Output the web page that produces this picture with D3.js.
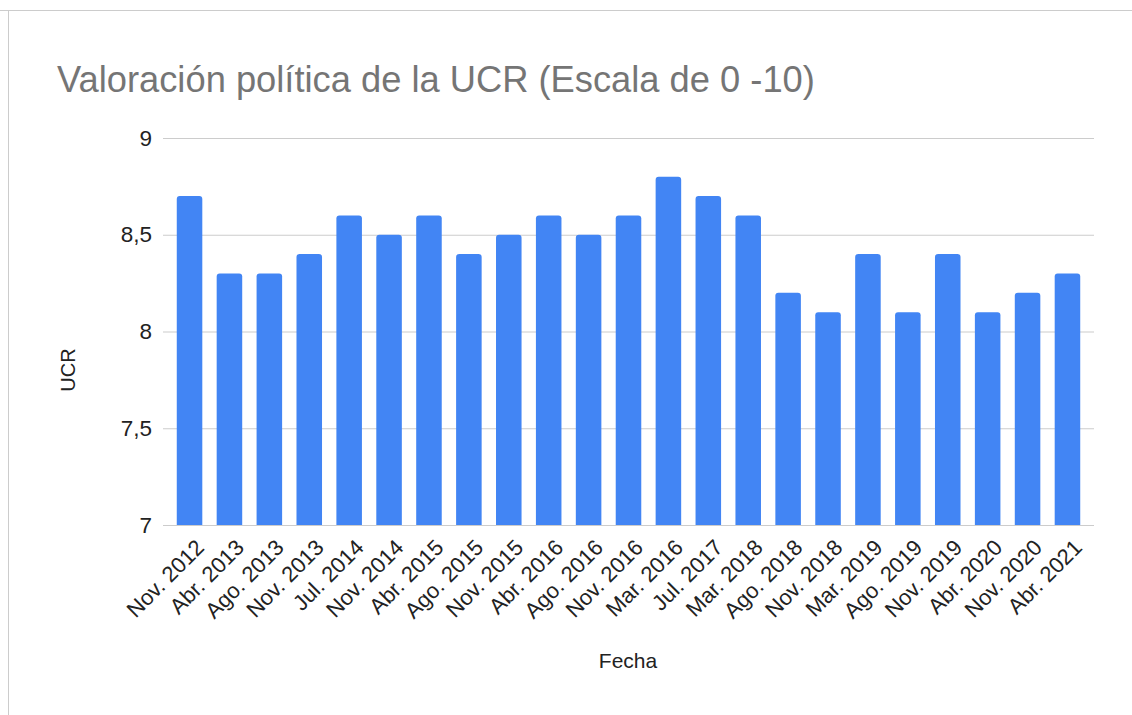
<!DOCTYPE html>
<html>
<head>
<meta charset="utf-8">
<script src="https://cdn.jsdelivr.net/npm/d3@7"></script>
<style>
  body { margin: 0; background: #fff; }
  text { font-family: Arial, "Liberation Sans", sans-serif; }
</style>
</head>
<body>
<script>
// datos
var fechas = ["Nov. 2012", "Abr. 2013", "Ago. 2013", "Nov. 2013", "Jul. 2014", "Nov. 2014",
  "Abr. 2015", "Ago. 2015", "Nov. 2015", "Abr. 2016", "Ago. 2016", "Nov. 2016", "Mar. 2016",
  "Jul. 2017", "Mar. 2018", "Ago. 2018", "Nov. 2018", "Mar. 2019", "Ago. 2019", "Nov. 2019",
  "Abr. 2020", "Nov. 2020", "Abr. 2021"];
var ucr = [8.7, 8.3, 8.3, 8.4, 8.6, 8.5, 8.6, 8.4, 8.5, 8.6, 8.5, 8.6, 8.8,
  8.7, 8.6, 8.2, 8.1, 8.4, 8.1, 8.4, 8.1, 8.2, 8.3];
var yTicks = [7, 7.5, 8, 8.5, 9];

var width = 1132, height = 715;
var margin = {top: 138, right: 38, bottom: 190, left: 163};

var svg = d3.select("body")
  .append("svg")
  .attr("width", width)
  .attr("height", height);

// marco
svg.append("line")
  .attr("x1", 0).attr("x2", width)
  .attr("y1", 10.5).attr("y2", 10.5)
  .attr("stroke", "#cccccc");
svg.append("line")
  .attr("x1", 8.5).attr("x2", 8.5)
  .attr("y1", 10.5).attr("y2", height)
  .attr("stroke", "#cccccc");

var x = d3.scaleBand()
  .domain(fechas)
  .range([margin.left, width - margin.right])
  .paddingInner(0.36)
  .paddingOuter(0.345);

var y = d3.scaleLinear()
  .domain([7, 9])
  .range([height - margin.bottom, margin.top]);

// grid
var yAxis = svg.append("g")
  .attr("transform", "translate(" + margin.left + ",0)")
  .call(d3.axisLeft(y)
    .tickValues(yTicks)
    .tickSize(-(width - margin.right - margin.left))
    .tickPadding(11)
    .tickFormat(function(d) { return String(d).replace(".", ","); }));
yAxis.select(".domain").remove();
yAxis.selectAll(".tick line")
  .attr("stroke", "#cccccc")
  .attr("stroke-width", 1.2);
yAxis.selectAll(".tick text")
  .attr("fill", "#222")
  .style("font-size", "22.5px");

// barras
var r = 3;
svg.selectAll(".bar")
  .data(ucr)
  .enter()
  .append("path")
  .attr("class", "bar")
  .attr("fill", "#4285f4")
  .attr("d", function(d, i) {
    var x0 = x(fechas[i]), w = x.bandwidth();
    var y0 = y(d), y1 = y(7);
    return "M" + x0 + "," + y1 +
      "V" + (y0 + r) +
      "Q" + x0 + "," + y0 + " " + (x0 + r) + "," + y0 +
      "H" + (x0 + w - r) +
      "Q" + (x0 + w) + "," + y0 + " " + (x0 + w) + "," + (y0 + r) +
      "V" + y1 + "Z";
  });

// eje x
svg.selectAll(".xlabel")
  .data(fechas)
  .enter()
  .append("text")
  .attr("class", "xlabel")
  .attr("transform", function(d) {
    return "translate(" + (x(d) + x.bandwidth() / 2 + 5) + "," + (y(7) + 13) + ") rotate(-45)";
  })
  .attr("text-anchor", "end")
  .attr("dy", "0.7em")
  .attr("fill", "#222")
  .style("font-size", "22px")
  .text(function(d) { return d; });

svg.append("text")
  .attr("x", 57)
  .attr("y", 92)
  .attr("fill", "#757575")
  .style("font-size", "36.3px")
  .text("Valoración política de la UCR (Escala de 0 -10)");

svg.append("text")
  .attr("transform", "rotate(-90)")
  .attr("x", -370)
  .attr("y", 75)
  .attr("text-anchor", "middle")
  .attr("fill", "#222")
  .style("font-size", "20px")
  .text("UCR");

svg.append("text")
  .attr("x", 628)
  .attr("y", 668)
  .attr("text-anchor", "middle")
  .attr("fill", "#222")
  .style("font-size", "21px")
  .text("Fecha");
</script>
</body>
</html>
